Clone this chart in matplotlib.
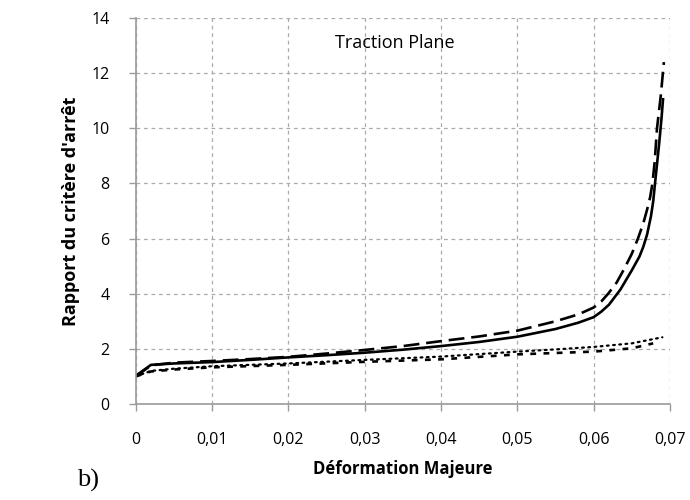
import matplotlib
matplotlib.use("Agg")
import matplotlib.pyplot as plt
from matplotlib.ticker import FixedLocator

# Data
x_solid = [0, 0.002, 0.005, 0.01, 0.015, 0.02, 0.025, 0.03, 0.035, 0.04, 0.045, 0.05,
           0.055, 0.058, 0.06, 0.061, 0.062, 0.0635, 0.065, 0.066, 0.0665, 0.067,
           0.0675, 0.0678, 0.068, 0.0683, 0.0686, 0.0689, 0.0691]
y_solid = [1.02, 1.42, 1.47, 1.52, 1.6, 1.69, 1.77, 1.86, 1.97, 2.1, 2.25, 2.44,
           2.72, 2.95, 3.15, 3.35, 3.6, 4.15, 4.85, 5.35, 5.7, 6.15, 6.8, 7.35,
           7.9, 8.7, 9.5, 10.4, 11.1]

x_dash = [0, 0.002, 0.005, 0.01, 0.015, 0.02, 0.025, 0.03, 0.035, 0.04, 0.045, 0.05,
          0.055, 0.058, 0.06, 0.061, 0.0619, 0.063, 0.064, 0.065, 0.0658, 0.0665, 0.067,
          0.0674, 0.0677, 0.068, 0.0683, 0.0688, 0.0692]
y_dash = [1.0, 1.4, 1.5, 1.56, 1.63, 1.71, 1.83, 1.96, 2.1, 2.28, 2.45, 2.66,
          3.0, 3.25, 3.5, 3.72, 4.0, 4.4, 4.9, 5.45, 6.0, 6.55, 7.05, 7.5,
          8.0, 8.8, 10.0, 11.2, 12.4]

x_dot = [0, 0.002, 0.005, 0.01, 0.02, 0.03, 0.04, 0.05, 0.055, 0.06, 0.065, 0.069]
y_dot = [1.0, 1.2, 1.28, 1.37, 1.47, 1.6, 1.72, 1.9, 1.98, 2.07, 2.2, 2.42]

x_sdash = [0, 0.002, 0.005, 0.01, 0.02, 0.03, 0.04, 0.05, 0.055, 0.06, 0.065, 0.0678]
y_sdash = [1.0, 1.18, 1.25, 1.33, 1.42, 1.53, 1.62, 1.8, 1.85, 1.9, 2.02, 2.2]

x_ticks = [0, 0.01, 0.02, 0.03, 0.04, 0.05, 0.06, 0.07]
x_tick_labels = ["0", "0,01", "0,02", "0,03", "0,04", "0,05", "0,06", "0,07"]
y_ticks = [0, 2, 4, 6, 8, 10, 12, 14]

plt.rcParams['font.family'] = ['Open Sans', 'DejaVu Sans']

fig = plt.figure(figsize=(6.9, 5.0), dpi=100)
ax = fig.add_axes([0.1967, 0.192, 0.7743, 0.772])

ax.set_xlim(0, 0.07)
ax.set_ylim(0, 14)

grey = "#9a9a9a"
ax.grid(True, color="#ababab", linestyle=(0, (3, 3)), linewidth=0.9)
ax.set_axisbelow(True)
for s in ["top", "right"]:
    ax.spines[s].set_visible(False)
for s in ["left", "bottom"]:
    ax.spines[s].set_color(grey)
    ax.spines[s].set_linewidth(1.2)

lw = 1.9
ax.plot(x_solid, y_solid, color="black", lw=lw, solid_capstyle="butt")
ax.plot(x_dash, y_dash, color="black", lw=lw, linestyle=(0, (6, 2.6)))
ax.plot(x_dot, y_dot, color="black", lw=1.6, linestyle=(0, (0.8, 2.0)), dash_capstyle="round")
ax.plot(x_sdash, y_sdash, color="black", lw=lw, linestyle=(0, (2.2, 2.8)))

ax.xaxis.set_major_locator(FixedLocator(x_ticks))
ax.set_xticklabels(x_tick_labels)
ax.yaxis.set_major_locator(FixedLocator(y_ticks))
ax.tick_params(axis="both", direction="out", length=5, color=grey, width=1,
               labelsize=11.5, labelcolor="black")
ax.tick_params(axis="x", pad=15)
ax.tick_params(axis="y", pad=14)

ax.set_xlabel("Déformation Majeure", fontsize=12, fontweight="bold", labelpad=9)
ax.set_ylabel("Rapport du critère d'arrêt", fontsize=13, fontweight="bold", labelpad=8)

ax.text(0.034, 13.1, "Traction Plane", fontsize=13, ha="center", va="center")

fig.text(0.128, 0.04, "b)", fontsize=19, family=["Liberation Serif", "DejaVu Serif"],
         ha="center", va="center")

fig.savefig("out.png", dpi=100)
